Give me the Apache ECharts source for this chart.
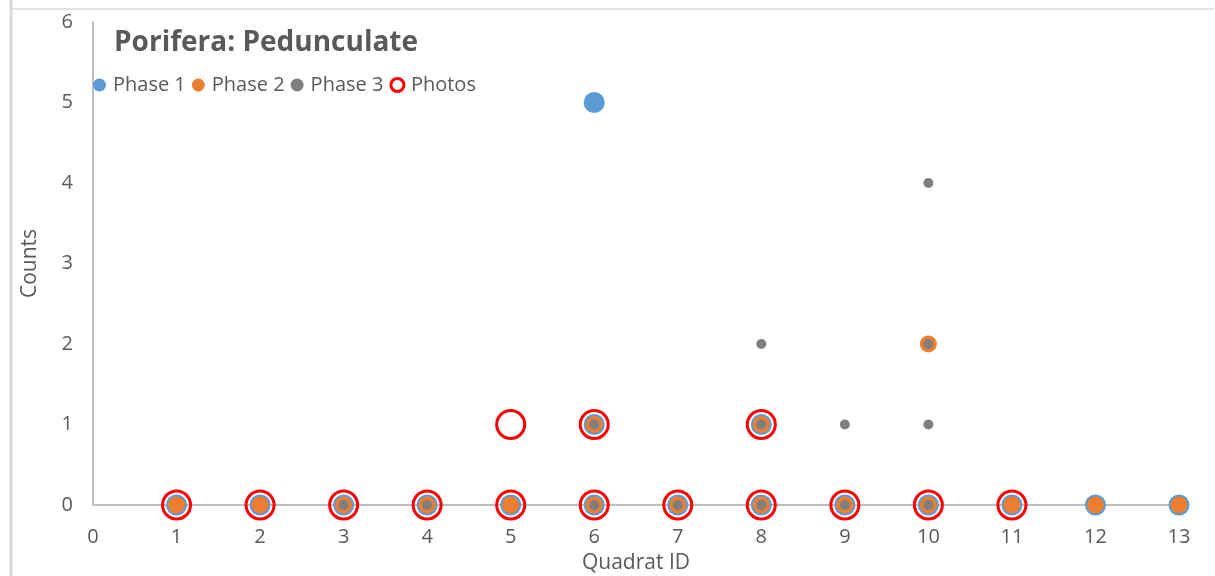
<!DOCTYPE html>
<html>
<head>
<meta charset="utf-8">
<script src="https://cdn.jsdelivr.net/npm/echarts@6/dist/echarts.min.js"></script>
<style>
  html, body { margin: 0; padding: 0; background: #fff; }
  #main { width: 1215px; height: 576px; }
</style>
</head>
<body>
<div id="main"></div>
<script>
// data: [quadrat, count]
var phase1 = [[1,0],[2,0],[3,0],[4,0],[5,0],[6,0],[7,0],[8,0],[9,0],[10,0],[11,0],[12,0],[13,0],
              [6,5],[6,1],[8,1]];
var phase2 = [[1,0],[2,0],[3,0],[4,0],[5,0],[6,0],[7,0],[8,0],[9,0],[10,0],[11,0],[12,0],[13,0],
              [6,1],[8,1],[10,2]];
var phase3 = [[3,0],[4,0],[6,0],[7,0],[8,0],[9,0],[10,0],
              [6,1],[8,1],[9,1],[10,1],[8,2],[10,2],[10,4]];
var photos = [[1,0],[2,0],[3,0],[4,0],[5,0],[6,0],[7,0],[8,0],[9,0],[10,0],[11,0],
              [5,1],[6,1],[8,1]];
var seriesNames = ['Phase 1', 'Phase 2', 'Phase 3', 'Photos'];

var textColor = '#595959';
var font = 'Open Sans';

var myChart = echarts.init(document.getElementById('main'));
myChart.setOption({
    animation: false,
    textStyle: { fontFamily: font },
    title: {
        text: 'Porifera: Pedunculate',
        left: 109,
        top: 24,
        textStyle: { fontSize: 28, fontWeight: 'bold', color: textColor, fontFamily: font }
    },
    legend: {
        left: 88,
        top: 70,
        itemGap: 6,
        itemWidth: 13,
        itemHeight: 13,
        textStyle: { fontSize: 20, color: textColor, padding: [0, 0, 0, 2] },
        data: [
            { name: seriesNames[0], icon: 'circle', itemStyle: { color: '#5b9bd5' } },
            { name: seriesNames[1], icon: 'circle', itemStyle: { color: '#ed7d31' } },
            { name: seriesNames[2], icon: 'circle', itemStyle: { color: '#7f7f7f' } },
            { name: seriesNames[3], icon: 'circle', itemStyle: { color: '#fff', borderColor: '#ff0000', borderWidth: 3 } }
        ]
    },
    graphic: [
        { type: 'line', shape: { x1: 11, y1: 0, x2: 11, y2: 576 }, style: { stroke: '#d9d9d9', lineWidth: 3 } },
        { type: 'line', shape: { x1: 11, y1: 9, x2: 1214, y2: 9 }, style: { stroke: '#d9d9d9', lineWidth: 1.5 } }
    ],
    grid: { left: 93, right: 36, top: 22, bottom: 71, outerBoundsMode: 'none' },
    xAxis: {
        type: 'value',
        min: 0, max: 13, interval: 1,
        name: 'Quadrat ID',
        nameLocation: 'middle',
        nameGap: 48,
        nameTextStyle: { fontSize: 21, color: textColor },
        axisLine: { show: true, lineStyle: { color: '#bfbfbf', width: 2 } },
        axisTick: { show: false },
        splitLine: { show: false },
        axisLabel: { fontSize: 20, color: textColor, margin: 22 }
    },
    yAxis: {
        type: 'value',
        min: 0, max: 6, interval: 1,
        name: 'Counts',
        nameLocation: 'middle',
        nameGap: 52,
        nameTextStyle: { fontSize: 21, color: textColor },
        axisLine: { show: true, lineStyle: { color: '#bfbfbf', width: 2 } },
        axisTick: { show: false },
        splitLine: { show: false },
        axisLabel: { fontSize: 20, color: textColor, margin: 20 }
    },
    series: [
        { name: seriesNames[0], type: 'scatter', data: phase1, symbolSize: 21,
          itemStyle: { color: '#5b9bd5', opacity: 1 } },
        { name: seriesNames[1], type: 'scatter', data: phase2, symbolSize: 17,
          itemStyle: { color: '#ed7d31', opacity: 1 } },
        { name: seriesNames[2], type: 'scatter', data: phase3, symbolSize: 10,
          itemStyle: { color: '#7f7f7f', opacity: 1 } },
        { name: seriesNames[3], type: 'scatter', data: photos, symbolSize: 28,
          itemStyle: { color: 'rgba(0,0,0,0)', borderColor: '#ff0000', borderWidth: 3, opacity: 1 } }
    ]
});
</script>
</body>
</html>
